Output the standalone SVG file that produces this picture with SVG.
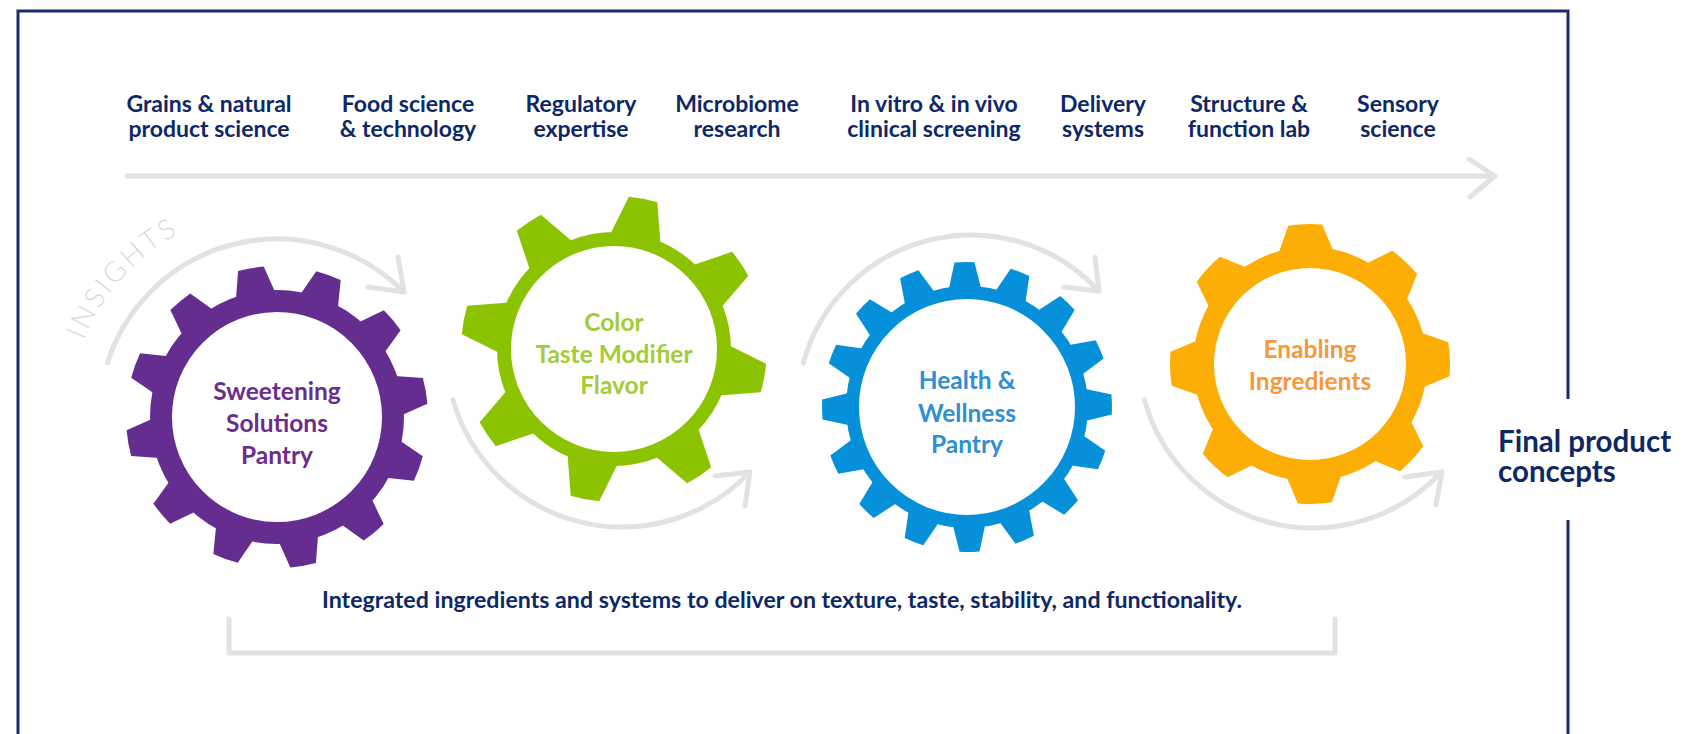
<svg xmlns="http://www.w3.org/2000/svg" width="1696" height="734" viewBox="0 0 1696 734">
<defs>
<style>
.lbl{font-family:Lato,"Open Sans","Liberation Sans",sans-serif;font-weight:700;font-size:23px;fill:#0e2866;text-anchor:middle}
.gt{font-family:Lato,"Open Sans","Liberation Sans",sans-serif;font-weight:700;font-size:24.5px;text-anchor:middle}
.flow{fill:none;stroke:#e1e2e4;stroke-width:5;stroke-linecap:round;stroke-linejoin:round}
.ring{fill:none}
</style>
<path id="tP" d="M-20 -123 L-13 -150.44 A151 151 0 0 1 13 -150.44 L20 -123 Z"/>
<path id="tG" d="M-25.6 -112 L-14.5 -152.3 A153 153 0 0 1 14.5 -152.3 L25.6 -112 Z"/>
<path id="tB" d="M-16.4 -117 L-10 -144.65 A145 145 0 0 1 10 -144.65 L16.4 -117 Z"/>
<path id="tO" d="M-27 -113 L-17 -138.96 A140 140 0 0 1 17 -138.96 L27 -113 Z"/>
<path id="insArc" d="M76.1 363.2 A208 208 0 0 1 240.9 212.2" fill="none"/>
</defs>
<rect width="1696" height="734" fill="#ffffff"/>

<g id="frame" fill="none" stroke="#182d6b" stroke-width="3">
<path d="M18 734 V11 H1568 V399 M1568 520 V734"/>
</g>

<g id="labels">
<text class="lbl" x="209" y="112"><tspan x="209">Grains &amp; natural</tspan><tspan x="209" y="137">product science</tspan></text>
<text class="lbl" x="408" y="112"><tspan x="408">Food science</tspan><tspan x="408" y="137">&amp; technology</tspan></text>
<text class="lbl" x="581" y="112"><tspan x="581">Regulatory</tspan><tspan x="581" y="137">expertise</tspan></text>
<text class="lbl" x="737" y="112"><tspan x="737">Microbiome</tspan><tspan x="737" y="137">research</tspan></text>
<text class="lbl" x="934" y="112"><tspan x="934">In vitro &amp; in vivo</tspan><tspan x="934" y="137">clinical screening</tspan></text>
<text class="lbl" x="1103" y="112"><tspan x="1103">Delivery</tspan><tspan x="1103" y="137">systems</tspan></text>
<text class="lbl" x="1249" y="112"><tspan x="1249">Structure &amp;</tspan><tspan x="1249" y="137">function lab</tspan></text>
<text class="lbl" x="1398" y="112"><tspan x="1398">Sensory</tspan><tspan x="1398" y="137">science</tspan></text>
</g>

<g id="connectors">
<path class="flow" stroke-width="5.5" d="M127 176 H1494 M1469 159 L1495 176 L1470 197"/>
<path class="flow" d="M107.4 362.9 A178 178 0 0 1 404 292.2 M398 257 L404 292 L368 287"/>
<path class="flow" d="M453 400.1 A176 176 0 0 0 749.9 471.9 M715 476 L750 472 L745 506"/>
<path class="flow" d="M803.2 363.1 A174 174 0 0 1 1098.9 291 M1095 257 L1099 291 L1064 287"/>
<path class="flow" d="M1144.4 399.8 A175 175 0 0 0 1441.6 471.7 M1405 477 L1442 472 L1436 505"/>
<path class="flow" d="M229 619 V653 H1335 V619"/>
</g>

<g id="insights">
<text font-family="Lato,'Open Sans',sans-serif" font-weight="300" font-size="28" fill="#d9dadd" letter-spacing="3"><textPath href="#insArc" startOffset="24">INSIGHTS</textPath></text>
</g>

<g id="gear-sweetening" fill="#652d90">
<g transform="translate(277 417)">
<circle class="ring" r="116" stroke="#652d90" stroke-width="22"/>
<use href="#tP" transform="rotate(-10)"/>
<use href="#tP" transform="rotate(20)"/>
<use href="#tP" transform="rotate(50)"/>
<use href="#tP" transform="rotate(80)"/>
<use href="#tP" transform="rotate(110)"/>
<use href="#tP" transform="rotate(140)"/>
<use href="#tP" transform="rotate(170)"/>
<use href="#tP" transform="rotate(200)"/>
<use href="#tP" transform="rotate(230)"/>
<use href="#tP" transform="rotate(260)"/>
<use href="#tP" transform="rotate(290)"/>
<use href="#tP" transform="rotate(320)"/>
</g>
<text class="gt" fill="#6a2d8f"><tspan x="277" y="400">Sweetening</tspan><tspan x="277" y="432">Solutions</tspan><tspan x="277" y="464">Pantry</tspan></text>
</g>

<g id="gear-color" fill="#8cc300">
<g transform="translate(614 349)">
<circle class="ring" r="110" stroke="#8cc300" stroke-width="14"/>
<use href="#tG" transform="rotate(11)"/>
<use href="#tG" transform="rotate(56)"/>
<use href="#tG" transform="rotate(101)"/>
<use href="#tG" transform="rotate(146)"/>
<use href="#tG" transform="rotate(191)"/>
<use href="#tG" transform="rotate(236)"/>
<use href="#tG" transform="rotate(281)"/>
<use href="#tG" transform="rotate(326)"/>
</g>
<text class="gt" fill="#a2cc38"><tspan x="614" y="331">Color</tspan><tspan x="614" y="363">Taste Modifier</tspan><tspan x="614" y="394">Flavor</tspan></text>
</g>

<g id="gear-health" fill="#0590d9">
<g transform="translate(967 407)">
<circle class="ring" r="114.5" stroke="#0590d9" stroke-width="13"/>
<use href="#tB" transform="rotate(-1)"/>
<use href="#tB" transform="rotate(21.5)"/>
<use href="#tB" transform="rotate(44)"/>
<use href="#tB" transform="rotate(66.5)"/>
<use href="#tB" transform="rotate(89)"/>
<use href="#tB" transform="rotate(111.5)"/>
<use href="#tB" transform="rotate(134)"/>
<use href="#tB" transform="rotate(156.5)"/>
<use href="#tB" transform="rotate(179)"/>
<use href="#tB" transform="rotate(201.5)"/>
<use href="#tB" transform="rotate(224)"/>
<use href="#tB" transform="rotate(246.5)"/>
<use href="#tB" transform="rotate(269)"/>
<use href="#tB" transform="rotate(291.5)"/>
<use href="#tB" transform="rotate(314)"/>
<use href="#tB" transform="rotate(336.5)"/>
</g>
<text class="gt" fill="#2f8ed4"><tspan x="967" y="389">Health &amp;</tspan><tspan x="967" y="422">Wellness</tspan><tspan x="967" y="453">Pantry</tspan></text>
</g>

<g id="gear-enabling" fill="#fdae04">
<g transform="translate(1310 364)">
<circle class="ring" r="106.5" stroke="#fdae04" stroke-width="21"/>
<use href="#tO" transform="rotate(-2)"/>
<use href="#tO" transform="rotate(43)"/>
<use href="#tO" transform="rotate(88)"/>
<use href="#tO" transform="rotate(133)"/>
<use href="#tO" transform="rotate(178)"/>
<use href="#tO" transform="rotate(223)"/>
<use href="#tO" transform="rotate(268)"/>
<use href="#tO" transform="rotate(313)"/>
</g>
<text class="gt" fill="#f5993a"><tspan x="1310" y="358">Enabling</tspan><tspan x="1310" y="390">Ingredients</tspan></text>
</g>

<g id="final">
<text font-family="Lato,'Open Sans',sans-serif" font-weight="700" font-size="29.5" fill="#0e2866"><tspan x="1498" y="452">Final product</tspan><tspan x="1498" y="482">concepts</tspan></text>
</g>

<g id="footer">
<text class="lbl" x="782" y="608" style="font-size:22px" textLength="920" lengthAdjust="spacingAndGlyphs">Integrated ingredients and systems to deliver on texture, taste, stability, and functionality.</text>
</g>
</svg>
